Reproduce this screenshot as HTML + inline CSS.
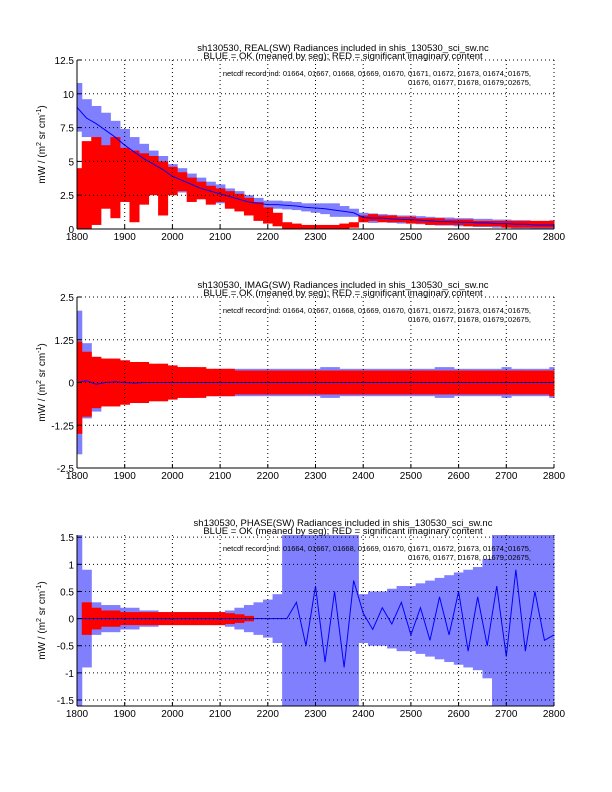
<!DOCTYPE html>
<html><head><meta charset="utf-8"><style>
body{margin:0;background:#fff;}
svg{display:block;font-family:"Liberation Sans",sans-serif;}
</style></head><body>
<svg id="fig" width="612" height="792" xmlns="http://www.w3.org/2000/svg"></svg>
<script>
const wavenumbers=[];for(let w=1800;w<=2800;w+=20)wavenumbers.push(w);
const xTicks=[1800,1900,2000,2100,2200,2300,2400,2500,2600,2700,2800];

// REAL panel
const realBlueMean=[9.0,8.2,7.8,7.3,6.8,6.2,5.7,5.2,4.8,4.4,3.9,3.6,3.3,3.0,2.8,2.6,2.4,2.2,2.0,1.9,1.8,1.8,1.75,1.7,1.6,1.55,1.5,1.4,1.3,1.2,0.85,0.8,0.8,0.75,0.7,0.7,0.65,0.6,0.55,0.55,0.5,0.5,0.45,0.45,0.4,0.4,0.35,0.35,0.3,0.3,0.3];
const realBlueSpread=[1.8,1.4,1.3,1.3,1.2,1.2,1.1,1.1,1.0,1.0,0.9,0.9,0.8,0.8,0.7,0.7,0.6,0.6,0.5,0.4,0.3,0.3,0.3,0.3,0.3,0.35,0.4,0.5,0.4,0.3,0.35,0.35,0.3,0.3,0.3,0.3,0.3,0.3,0.3,0.3,0.3,0.3,0.3,0.3,0.3,0.3,0.3,0.3,0.3,0.3,0.35];
const realRedLo=[0,0,0.3,1.5,0.8,2.0,0.5,1.8,2.5,1.0,2.5,2.8,2.0,2.2,1.8,2.0,1.5,1.3,1.0,0.6,0.4,0.2,0,0,0,0,0,0,0,0.1,0.5,0.6,0.5,0.5,0.5,0.4,0.4,0.3,0.3,0.3,0.3,0.2,0.2,0.2,0.2,0.1,0.1,0.1,0.1,0.1,0.1];
const realRedHi=[4.5,6.5,6.8,6.2,6.8,6.0,5.8,5.6,5.4,5.0,4.6,4.2,3.8,3.5,3.2,3.0,2.8,2.6,2.3,2.0,1.6,1.2,0.5,0.4,0.3,0.3,0.3,0.3,0.4,0.5,1.0,1.1,1.0,1.0,0.9,0.9,0.8,0.8,0.8,0.7,0.7,0.7,0.6,0.6,0.6,0.6,0.6,0.6,0.6,0.6,0.6];
const realYTicks=[0,2.5,5,7.5,10,12.5];

// IMAG panel
const imagBlueMean=[0,0.05,-0.05,0,0.02,0,-0.02,0,0,0,0,0,0,0,0,0,0,0,0,0,0,0,0,0,0,0,0,0,0,0,0,0,0,0,0,0,0,0,0,0,0,0,0,0,0,0,0,0,0,0,0];
const imagBlueSpread=[2.1,1.1,0.8,0.6,0.55,0.5,0.5,0.45,0.45,0.45,0.45,0.45,0.45,0.4,0.4,0.4,0.4,0.4,0.4,0.4,0.4,0.4,0.4,0.4,0.4,0.4,0.45,0.45,0.4,0.4,0.4,0.4,0.4,0.4,0.4,0.4,0.4,0.4,0.45,0.45,0.4,0.4,0.4,0.4,0.4,0.45,0.4,0.4,0.4,0.4,0.45];
const imagRedLo=[-1.5,-1.0,-0.75,-0.7,-0.7,-0.65,-0.6,-0.6,-0.55,-0.55,-0.5,-0.45,-0.45,-0.45,-0.4,-0.4,-0.4,-0.35,-0.35,-0.35,-0.35,-0.35,-0.35,-0.35,-0.35,-0.35,-0.35,-0.35,-0.35,-0.35,-0.35,-0.35,-0.35,-0.35,-0.35,-0.35,-0.35,-0.35,-0.35,-0.35,-0.35,-0.35,-0.35,-0.35,-0.35,-0.35,-0.35,-0.35,-0.35,-0.35,-0.4];
const imagRedHi=[1.2,0.9,0.75,0.7,0.7,0.65,0.6,0.6,0.55,0.55,0.5,0.45,0.45,0.45,0.4,0.4,0.4,0.35,0.35,0.35,0.35,0.35,0.35,0.35,0.35,0.35,0.35,0.35,0.35,0.35,0.35,0.35,0.35,0.35,0.35,0.35,0.35,0.35,0.35,0.35,0.35,0.35,0.35,0.35,0.35,0.35,0.35,0.35,0.35,0.35,0.35];
const imagYTicks=[-2.5,-1.25,0,1.25,2.5];

// PHASE panel
const phaseBlueMean=[0,0,0,0,0,0,0,0,0,0,0,0,0,0,0,0,0,0,0,0,0,0,0,0.3,-0.5,0.6,-0.8,0.5,-0.9,0.7,0.1,-0.2,0.2,-0.1,0.3,-0.3,0.2,-0.4,0.4,-0.3,0.5,-0.6,0.4,-0.5,0.6,-0.7,0.9,-0.6,0.5,-0.4,-0.3];
const phaseBandCenter=[0,0,0,0,0,0,0,0,0,0,0,0,0,0,0,0,0,0,0,0,0,0,0,0,0,0,0,0,0,0,0,0,0,0,0,0,0,0,0,0,0,0,0,0,0,0,0,0,0,0,0];
const phaseBlueSpread=[1.7,0.9,0.3,0.25,0.25,0.2,0.2,0.15,0.15,0.12,0.12,0.12,0.12,0.12,0.12,0.12,0.15,0.2,0.25,0.3,0.35,0.45,1.7,1.7,1.7,1.7,1.7,1.7,1.7,1.7,0.45,0.5,0.5,0.55,0.6,0.6,0.65,0.7,0.75,0.8,0.85,0.9,0.95,1.1,1.7,1.7,1.7,1.7,1.7,1.7,1.7];
const phaseRedLo=[0,-0.3,-0.2,-0.15,-0.15,-0.12,-0.12,-0.12,-0.12,-0.12,-0.12,-0.12,-0.12,-0.12,-0.12,-0.12,-0.1,-0.08,-0.05,0,0,0,0,0,0,0,0,0,0,0,0,0,0,0,0,0,0,0,0,0,0,0,0,0,0,0,0,0,0,0,0];
const phaseRedHi=[0,0.3,0.2,0.15,0.15,0.12,0.12,0.12,0.12,0.12,0.12,0.12,0.12,0.12,0.12,0.12,0.1,0.08,0.05,0,0,0,0,0,0,0,0,0,0,0,0,0,0,0,0,0,0,0,0,0,0,0,0,0,0,0,0,0,0,0,0];
const phaseYTicks=[-1.5,-1,-0.5,0,0.5,1,1.5];

const NS="http://www.w3.org/2000/svg";
const fig=document.getElementById('fig');
function el(tag,attrs,parent){const e=document.createElementNS(NS,tag);for(const k in attrs)e.setAttribute(k,attrs[k]);(parent||fig).appendChild(e);return e;}

function panel(name,top,bottom,ymin,ymax,yTicks,bMean,bCenter,bSpread,rLo,rHi,title){
  const L=77,R=554;
  const g=el('g',{});
  
  
  const xs=v=>L+(v-1800)/1000*(R-L);
  const ys=v=>{v=Math.max(ymin,Math.min(ymax,v));return bottom-(v-ymin)/(ymax-ymin)*(bottom-top);};
  const step=20;
  const x0=i=>Math.max(L,xs(wavenumbers[i]-step/2));
  const x1=i=>Math.min(R,xs(wavenumbers[i]+step/2));
  wavenumbers.forEach((w,i)=>{
    const yt=ys(bCenter[i]+bSpread[i]),yb=ys(bCenter[i]-bSpread[i]);
    const r=el('rect',{x:x0(i),y:yt,width:x1(i)-x0(i)+0.5,height:Math.max(1,yb-yt),fill:'#8080ff'},g);
    
    
  });
  wavenumbers.forEach((w,i)=>{
    if(rHi[i]-rLo[i]<=0.001)return;
    const yt=ys(rHi[i]),yb=ys(rLo[i]);
    const r=el('rect',{x:x0(i),y:yt,width:x1(i)-x0(i)+0.5,height:Math.max(1,yb-yt),fill:'#ff0000'},g);
    
    
  });
  const line=el('polyline',{points:wavenumbers.map((w,i)=>xs(w)+','+ys(bMean[i])).join(' '),fill:'none',stroke:'#0000ff','stroke-width':1},g);
  
  
  xTicks.forEach(t=>{
    if(t>1800){const gl=el('line',{x1:xs(t),x2:xs(t),y1:top,y2:bottom,stroke:'#000','stroke-dasharray':'1,3','stroke-width':1},g);
    }
    el('line',{x1:xs(t),x2:xs(t),y1:bottom,y2:bottom-4,stroke:'#000'},g);
    const tl=el('text',{x:xs(t),y:bottom+11,'font-size':10,'text-anchor':'middle'},g);
    tl.textContent=t;
    
  });
  yTicks.forEach(t=>{
    if(ys(t)>top+1||t===yTicks[yTicks.length-1]){const gl=el('line',{x1:L,x2:R,y1:ys(t),y2:ys(t),stroke:'#000','stroke-dasharray':'1,3','stroke-width':1},g);
    }
    el('line',{x1:L,x2:L+4,y1:ys(t),y2:ys(t),stroke:'#000'},g);
    const tl=el('text',{x:L-3,y:ys(t)+4,'font-size':10,'text-anchor':'end'},g);
    tl.textContent=t;
    
  });
  el('line',{x1:L,x2:R,y1:bottom,y2:bottom,stroke:'#000'},g);
  el('line',{x1:L,x2:L,y1:top,y2:bottom,stroke:'#000'},g);
  const t1=el('text',{x:343,y:top-9,'font-size':9.5,'text-anchor':'middle'},g);t1.textContent=title;
  
  const t2=el('text',{x:343,y:top-1,'font-size':9.5,'text-anchor':'middle'},g);t2.textContent='BLUE = OK (meaned by seg); RED = significant imaginary content';
  
  const n1=el('text',{x:531,y:top+16,'font-size':7.5,'text-anchor':'end'},g);n1.textContent='netcdf record ind:  01664, 01667, 01668, 01669, 01670, 01671, 01672, 01673, 01674, 01675,';
  
  const n2=el('text',{x:531,y:top+25,'font-size':7.5,'text-anchor':'end'},g);n2.textContent='01676, 01677, 01678, 01679, 02675,';
  
  const cy=(top+bottom)/2;
  const yl=el('text',{x:0,y:0,'font-size':10,'text-anchor':'middle',transform:'translate(45,'+cy+') rotate(-90)'},g);
  yl.innerHTML='mW / (m<tspan dy="-4" font-size="7">2</tspan><tspan dy="4"> sr cm</tspan><tspan dy="-4" font-size="7">-1</tspan><tspan dy="4">)</tspan>';
  
}
panel('real',60,229,0,12.5,realYTicks,realBlueMean,realBlueMean,realBlueSpread,realRedLo,realRedHi,'sh130530, REAL(SW) Radiances included in shis_130530_sci_sw.nc');
panel('imag',297,468,-2.5,2.5,imagYTicks,imagBlueMean,imagBlueMean,imagBlueSpread,imagRedLo,imagRedHi,'sh130530, IMAG(SW) Radiances included in shis_130530_sci_sw.nc');
panel('phase',535,706,-1.61,1.54,phaseYTicks,phaseBlueMean,phaseBandCenter,phaseBlueSpread,phaseRedLo,phaseRedHi,'sh130530, PHASE(SW) Radiances included in shis_130530_sci_sw.nc');
</script>
</body></html>
